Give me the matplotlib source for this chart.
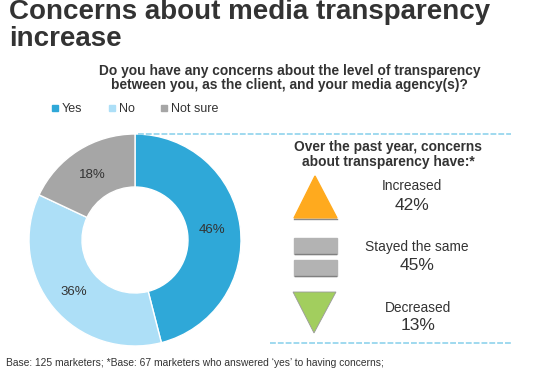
import matplotlib
matplotlib.use('Agg')
import matplotlib.pyplot as plt
from matplotlib.patches import Polygon, Rectangle

plt.rcParams['font.family'] = ['Liberation Sans', 'DejaVu Sans']

categories = ['Yes', 'No', 'Not sure']
shares = [46, 36, 18]
colors = ['#2FA8D8', '#ADDFF7', '#A6A6A6']
change_labels = ['Increased', 'Stayed the same', 'Decreased']
change_values = [42, 45, 13]

W, H = 553, 369
fig = plt.figure(figsize=(W / 100, H / 100), dpi=100)

# donut
cx, cy, r = 135, 240, 106
pie_ax = fig.add_axes([(cx - r) / W, 1 - (cy + r) / H, 2 * r / W, 2 * r / H])
wedges, _ = pie_ax.pie(shares, colors=colors, startangle=90, counterclock=False,
                       radius=1, wedgeprops=dict(width=0.5, edgecolor='white', linewidth=1))
pie_ax.set_xlim(-1, 1)
pie_ax.set_ylim(-1, 1)

# overlay in pixel coordinates, y going down
ov = fig.add_axes([0, 0, 1, 1], zorder=5)
ov.set_xlim(0, W)
ov.set_ylim(H, 0)
ov.axis('off')

dark = '#333333'
ov.text(9, 12, 'Concerns about media transparency', fontsize=20, fontweight='bold', color=dark, va='center')
ov.text(9, 39, 'increase', fontsize=20, fontweight='bold', color=dark, va='center')
ov.text(289.5, 70.5, 'Do you have any concerns about the level of transparency', fontsize=9.9, fontweight='bold', color=dark, ha='center', va='center')
ov.text(289.5, 85.5, 'between you, as the client, and your media agency(s)?', fontsize=9.9, fontweight='bold', color=dark, ha='center', va='center')

# legend
for x, c, name in zip([52, 109, 161], colors, categories):
    ov.add_patch(Rectangle((x, 105), 6, 6, color=c))
    ov.text(x + 10, 109, name, fontsize=9, color=dark, va='center')

for txt, x, y in zip(shares, [212, 74, 92], [230, 292, 175]):
    ov.text(x, y, '%d%%' % txt, fontsize=9.5, color=dark, ha='center', va='center')

# dashed rules
for y in [134, 343]:
    ov.plot([138 if y == 134 else 270, 511], [y, y], color='#8FD3EC', lw=1.2, dashes=(3.5, 1.2))

ov.text(388, 146.5, 'Over the past year, concerns', fontsize=9.9, fontweight='bold', color=dark, ha='center', va='center')
ov.text(388, 162, 'about transparency have:*', fontsize=9.9, fontweight='bold', color=dark, ha='center', va='center')

# indicator shapes
ov.add_patch(Polygon([(294, 218), (337, 218), (315, 176)], color='#FFAA1E'))
ov.plot([294, 337], [218.5, 218.5], color='#8a8a8a', lw=1)
for y in [238, 260]:
    ov.add_patch(Rectangle((294, y), 43, 16, color='#B3B3B3'))
    ov.plot([295, 336], [y + 16, y + 16], color='#808080', lw=1)
ov.add_patch(Polygon([(293, 292), (336, 292), (314, 333)], color='#A2CE5E', ec='#9a9a9a', lw=0.6))

for name, val, x, y1, y2 in zip(change_labels, change_values, [412, 417, 418], [186.5, 247.5, 307.5], [206, 266, 326]):
    ov.text(x, y1, name, fontsize=9.9, color=dark, ha='center', va='center')
    ov.text(x, y2, '%d%%' % val, fontsize=12.5, color=dark, ha='center', va='center')

ov.text(6, 363, "Base: 125 marketers; *Base: 67 marketers who answered \u2018yes\u2019 to having concerns;", fontsize=7.37, color=dark, va='center')

fig.savefig('out.png', dpi=100)
